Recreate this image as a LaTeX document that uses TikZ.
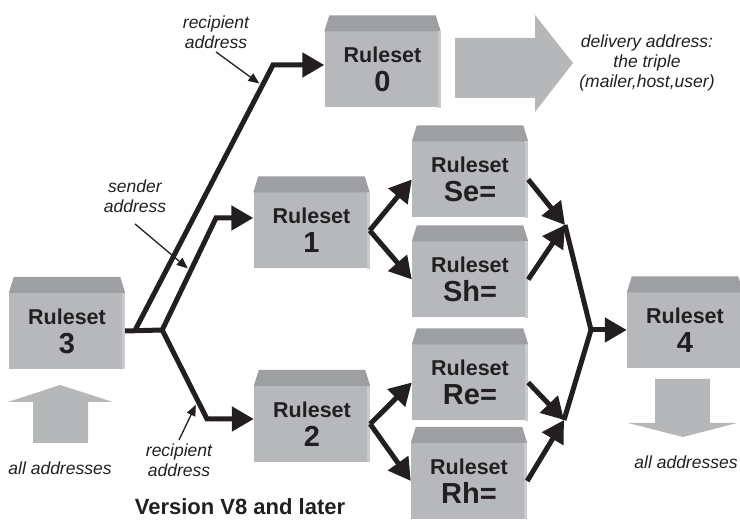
\documentclass[tikz,border=0pt]{standalone}
\usepackage{fontspec}
\setmainfont{Liberation Sans}
\usetikzlibrary{arrows.meta,calc}
\definecolor{RuleFront}{HTML}{B7B8BB}
\definecolor{RuleTop}{HTML}{9E9FA2}
\definecolor{RuleEdge}{HTML}{C9CACC}
\definecolor{RuleInk}{HTML}{231F20}
\definecolor{RuleArrow}{HTML}{B6B7B9}
\newcommand\RuleNum[1]{{\fontsize{29}{28}\selectfont #1}}

\begin{document}
\begin{tikzpicture}[x=1pt,y=1pt,
    ruleset/.style={fill=RuleFront, minimum width=116pt, minimum height=76pt, inner sep=0pt,
      align=center, text=RuleInk, font=\bfseries\fontsize{21.5}{29}\selectfont},
    flow/.style={RuleInk, line width=5pt, -{Triangle[length=22pt,width=24pt]}},
    wire/.style={RuleInk, line width=5pt},
    pointer/.style={RuleInk, line width=1.3pt, -{Triangle[length=11pt,width=9pt]}},
    note/.style={align=center, text=RuleInk, font=\itshape\fontsize{17.5}{20}\selectfont}]
  \useasboundingbox (0,0) rectangle (740,521);
  % rulesets
  \node[ruleset] (rs3) at (67,190) {Ruleset\\\RuleNum{3}};
  \node[ruleset] (rs0) at (382.5,451.5) {Ruleset\\\RuleNum{0}};
  \node[ruleset] (rs1) at (311.5,290.5) {Ruleset\\\RuleNum{1}};
  \node[ruleset] (rsSe) at (470,341.5) {Ruleset\\\RuleNum{Se=}};
  \node[ruleset] (rsSh) at (470,241.5) {Ruleset\\\RuleNum{Sh=}};
  \node[ruleset] (rs2) at (312,97) {Ruleset\\\RuleNum{2}};
  \node[ruleset] (rsRe) at (470,138.5) {Ruleset\\\RuleNum{Re=}};
  \node[ruleset] (rsRh) at (469,40) {Ruleset\\\RuleNum{Rh=}};
  \node[ruleset] (rs4) at (685,190.5) {Ruleset\\\RuleNum{4}};
  \foreach \b in {rs3,rs0,rs1,rsSe,rsSh,rs2,rsRe,rsRh,rs4} {
    \fill[RuleTop] (\b.north west) -- ($(\b.north west)+(5,16)$) -- ($(\b.north east)+(-5,16)$) -- (\b.north east) -- cycle;
    \fill[RuleEdge] ($(\b.north east)+(-3,0)$) rectangle (\b.south east);
  }
  % grey block arrows
  \fill[RuleArrow] (33,78) -- (33,119) -- (8,119) -- (60,136) -- (113,119) -- (88,119) -- (88,78) -- cycle;
  \fill[RuleArrow] (655,142) -- (655,98) -- (628,98) -- (683,84) -- (737,98) -- (710,98) -- (710,142) -- cycle;
  \fill[RuleArrow] (455,483) -- (535,483) -- (535,506) -- (573,458) -- (535,409) -- (535,423) -- (455,423) -- cycle;
  % junctions
  \coordinate (fork) at ($(rs3.east)+(37,1)$);
  \coordinate (s0) at ($(rs3.east)+(10,1)$);
  \coordinate (c0) at (273,456);
  \coordinate (c1) at (216,303);
  \coordinate (c2) at (207,102);
  \coordinate (j1) at (565,296);
  \coordinate (j2) at (564,101);
  \coordinate (k) at (591,191);
  % flows
  \draw[wire] (rs3.east) -- (fork);
  \draw[flow] (s0) -- (c0) -- (c0 -| rs0.west);
  \draw[flow] (fork) -- (c1) -- (c1 -| rs1.west);
  \draw[flow] (fork) -- (c2) -- (c2 -| rs2.west);
  \draw[flow] (rs1.east) -- (rsSe.west);
  \draw[flow] (rs1.east) -- (rsSh.west);
  \draw[flow] (rs2.east) -- (rsRe.west);
  \draw[flow] (rs2.east) -- (rsRh.west);
  \draw[flow] (rsSe.east) -- (j1);
  \draw[flow] (rsSh.east) -- (j1);
  \draw[flow] (rsRe.east) -- (j2);
  \draw[flow] (rsRh.east) -- (j2);
  \draw[wire] (j1) -- (k) -- (j2);
  \draw[flow] (k) -- (k -| rs4.west);
  % labels
  \node[note] (rcptTop) at (216,489) {recipient\\address};
  \node[note] (sender) at (135,325) {sender\\address};
  \node[note] (rcptLow) at (179,61) {recipient\\address};
  \node[note] (deliv) at (647,458) {delivery address:\\the triple\\(mailer,host,user)};
  \node[note] (allIn) at (60,53) {all addresses};
  \node[note] (allOut) at (686,59) {all addresses};
  \node[text=RuleInk, font=\bfseries\fontsize{22}{24}\selectfont] (version) at (240,14) {Version V8 and later};
  \draw[pointer] (rcptTop.south) -- ($(s0)!0.93!(c0)+(-4,0)$);
  \draw[pointer] ([yshift=-8pt]sender.south) -- ($(fork)!0.55!(c1)+(-4,0)$);
  \draw[pointer] (rcptLow.north) -- ($(fork)!0.84!(c2)+(-4,0)$);
\end{tikzpicture}
\end{document}
